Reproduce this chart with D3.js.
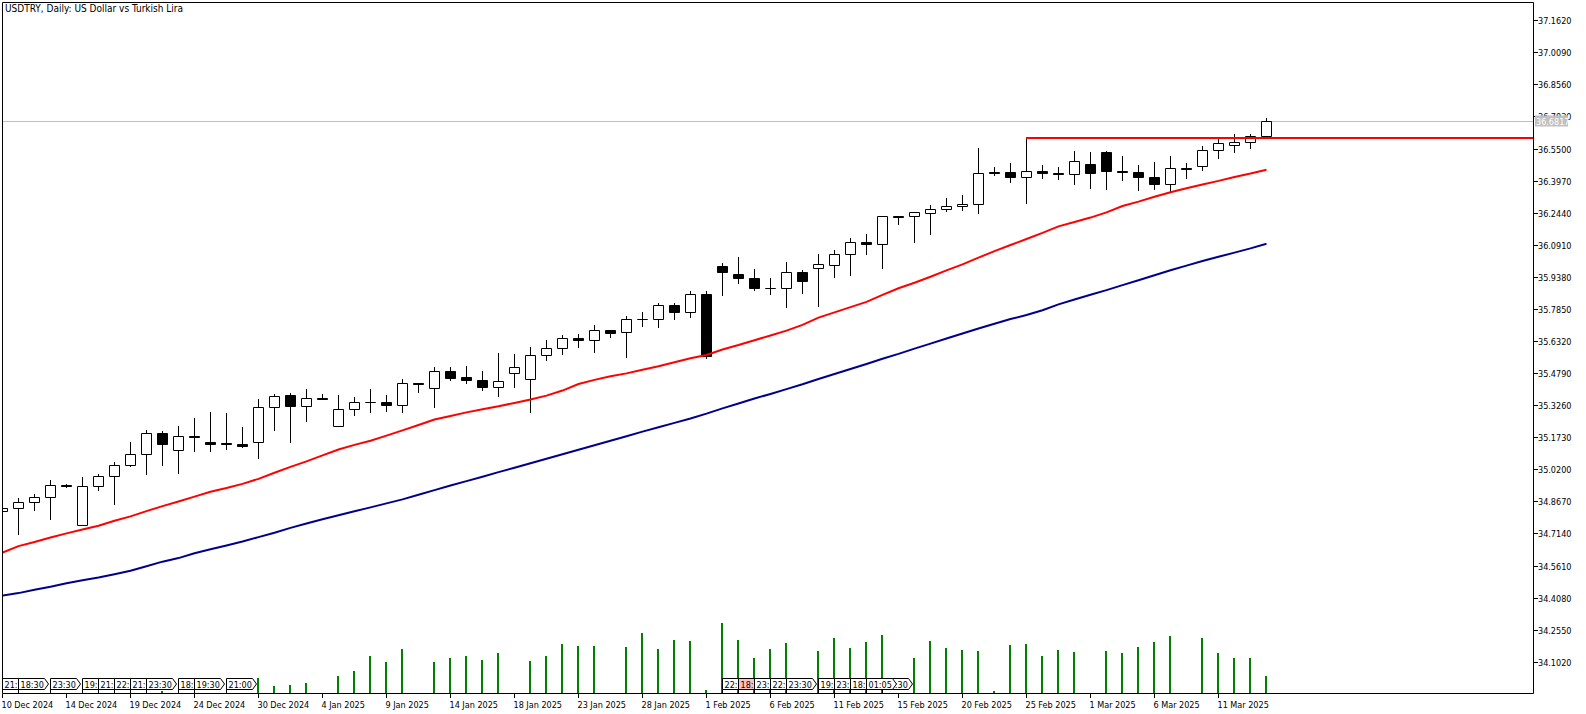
<!DOCTYPE html>
<html><head><meta charset="utf-8">
<script src="https://cdn.jsdelivr.net/npm/d3@7"></script>
<style>
html,body{margin:0;padding:0;background:#fff;}
svg{display:block;}
text{font-family:"DejaVu Sans Condensed","DejaVu Sans",sans-serif;font-size:9px;}
</style>
</head><body>
<svg id="c" width="1586" height="714"></svg>
<script>
// ---------- DATA ----------
const title = "USDTRY, Daily:  US Dollar vs Turkish Lira";
const opens = [
34.822,34.836,34.865,34.889,34.946,34.755,34.941,34.989,35.040,35.094,
35.194,35.113,35.180,35.148,35.145,35.143,35.151,35.318,35.375,35.323,
35.361,35.228,35.309,35.340,35.342,35.328,35.433,35.409,35.490,35.458,
35.447,35.414,35.480,35.452,35.566,35.600,35.647,35.638,35.685,35.676,
35.738,35.738,35.805,35.771,35.857,35.991,35.952,35.933,35.884,35.886,
35.962,35.981,35.995,36.048,36.105,36.096,36.229,36.229,36.243,36.262,
36.277,36.286,36.440,36.439,36.415,36.444,36.434,36.429,36.477,36.534,
36.444,36.439,36.415,36.382,36.458,36.468,36.544,36.568,36.582,36.611];
const highs = [
34.837,34.881,34.903,34.971,34.952,34.981,35.000,35.056,35.148,35.208,
35.204,35.228,35.266,35.294,35.290,35.223,35.356,35.380,35.385,35.404,
35.380,35.375,35.366,35.404,35.375,35.452,35.433,35.507,35.506,35.515,
35.491,35.577,35.572,35.604,35.638,35.662,35.666,35.709,35.685,35.750,
35.771,35.814,35.814,35.871,35.871,36.005,36.035,35.976,35.933,36.010,
35.972,36.045,36.068,36.121,36.140,36.229,36.229,36.248,36.282,36.316,
36.329,36.553,36.463,36.483,36.604,36.472,36.463,36.539,36.534,36.539,
36.515,36.472,36.487,36.515,36.482,36.563,36.596,36.620,36.620,36.697];
const lows = [
34.822,34.711,34.827,34.782,34.937,34.755,34.922,34.854,35.037,34.997,
35.040,35.002,35.106,35.106,35.118,35.127,35.073,35.207,35.149,35.250,
35.354,35.228,35.280,35.294,35.299,35.292,35.388,35.316,35.445,35.431,
35.397,35.369,35.412,35.292,35.540,35.569,35.602,35.579,35.650,35.555,
35.703,35.698,35.736,35.746,35.550,35.850,35.908,35.876,35.857,35.795,
35.862,35.798,35.936,35.946,36.046,35.979,36.189,36.103,36.141,36.253,
36.256,36.242,36.425,36.389,36.289,36.408,36.406,36.380,36.361,36.358,
36.401,36.353,36.358,36.344,36.408,36.447,36.504,36.534,36.552,36.611];
const closes = [
34.836,34.865,34.889,34.946,34.940,34.941,34.989,35.042,35.094,35.194,
35.142,35.180,35.173,35.142,35.141,35.130,35.318,35.371,35.323,35.361,
35.354,35.309,35.342,35.340,35.328,35.433,35.426,35.490,35.455,35.447,
35.412,35.442,35.509,35.566,35.600,35.647,35.636,35.685,35.671,35.738,
35.738,35.805,35.771,35.857,35.561,35.960,35.932,35.886,35.884,35.962,
35.917,35.997,36.048,36.105,36.096,36.229,36.222,36.248,36.262,36.277,
36.286,36.434,36.434,36.415,36.444,36.434,36.429,36.491,36.434,36.444,
36.439,36.415,36.382,36.458,36.453,36.544,36.577,36.582,36.611,36.6817];
const maRed = [
34.625,34.656,34.676,34.697,34.717,34.735,34.753,34.777,34.798,34.823,
34.847,34.869,34.892,34.915,34.933,34.953,34.977,35.006,35.034,35.060,
35.089,35.117,35.139,35.159,35.183,35.208,35.234,35.260,35.277,35.294,
35.309,35.323,35.339,35.355,35.374,35.398,35.429,35.449,35.466,35.480,
35.497,35.514,35.533,35.552,35.568,35.594,35.615,35.638,35.661,35.684,
35.711,35.746,35.771,35.796,35.821,35.854,35.886,35.912,35.941,35.971,
36.000,36.032,36.063,36.092,36.121,36.150,36.181,36.202,36.223,36.248,
36.278,36.299,36.322,36.344,36.363,36.381,36.398,36.417,36.433,36.451];
const maBlue = [
34.420,34.432,34.448,34.462,34.479,34.493,34.506,34.522,34.539,34.560,
34.582,34.599,34.622,34.641,34.659,34.678,34.699,34.720,34.743,34.764,
34.784,34.803,34.822,34.841,34.860,34.879,34.901,34.923,34.945,34.966,
34.987,35.009,35.030,35.051,35.073,35.094,35.116,35.137,35.159,35.180,
35.202,35.223,35.244,35.265,35.288,35.313,35.336,35.360,35.382,35.405,
35.428,35.453,35.477,35.501,35.525,35.550,35.573,35.598,35.622,35.646,
35.670,35.694,35.717,35.739,35.758,35.781,35.809,35.832,35.855,35.877,
35.901,35.924,35.948,35.972,35.994,36.016,36.036,36.056,36.076,36.098];
const volumes = [
0,0,0,0,0,0,0,0,0,0,100,0,0,0,0,0,
750,350,400,500,0,850,1100,1850,1550,2200,0,1550,1750,1850,1650,2000,
0,1600,1850,2450,2350,2350,0,2300,3000,2200,2650,2600,150,3500,2650,1750,
2200,2500,0,2100,2750,2250,2550,2900,0,1750,2600,2250,2150,2100,100,2400,
2450,1850,2150,2050,0,2100,2000,2300,2550,2850,0,2750,2000,1750,1750,850];
const xTickLabels = ["10 Dec 2024","14 Dec 2024","19 Dec 2024","24 Dec 2024","30 Dec 2024",
"4 Jan 2025","9 Jan 2025","14 Jan 2025","18 Jan 2025","23 Jan 2025","28 Jan 2025",
"1 Feb 2025","6 Feb 2025","11 Feb 2025","15 Feb 2025","20 Feb 2025","25 Feb 2025",
"1 Mar 2025","6 Mar 2025","11 Mar 2025"];
const xTickBars = [0,4,8,12,16,20,24,28,32,36,40,44,48,52,56,60,64,68,72,76];
const yTickLabels = ["34.1020","34.2550","34.4080","34.5610","34.7140","34.8670","35.0200",
"35.1730","35.3260","35.4790","35.6320","35.7850","35.9380","36.0910","36.2440","36.3970",
"36.5500","36.7030","36.8560","37.0090","37.1620"];
const lastPrice = 36.6817;
const levelPrice = 36.604;
const levelStartBar = 64;
const eventBars   = [0,1,3,5,6,7,8,9,11,12,14,45,46,47,48,49,51,52,53,54,55];
const eventLabels = ["21:","18:30","23:30","19:","21:","22:","21:","23:30","18:","19:30","21:00",
"22:","18:","23:","22:","23:30","19:","23:","18:","01:05","23:30"];
const eventHighlightBar = 46;

// ---------- LAYOUT ----------
const W = 1586, H = 714;
const L = 2, T = 2, R = 1533, B = 693;
const svg = d3.select("#c");
const nBars = opens.length;

const x = d3.scaleLinear().domain([0, nBars - 1]).range([2.5, 2.5 + 16 * (nBars - 1)]);
const y = d3.scaleLinear().domain([34.102, 37.162]).range([662.3, 20.7]);
const yv = d3.scaleLinear().domain([0, 3500]).range([B, B - 70]);
const snap = v => Math.round(v - 0.5) + 0.5;

svg.append("rect").attr("width", W).attr("height", H).attr("fill", "#fff");
svg.append("clipPath").attr("id", "plot").append("rect")
  .attr("x", L + 1).attr("y", T + 1).attr("width", R - L - 1).attr("height", B - T - 1);
const g = svg.append("g").attr("clip-path", "url(#plot)");

// current price line
g.append("line").attr("x1", L).attr("x2", R).attr("y1", snap(y(lastPrice))).attr("y2", snap(y(lastPrice)))
  .attr("stroke", "#c0c0c0").attr("stroke-width", 1);

// volumes
g.append("g").selectAll("rect").data(volumes.map((v, i) => ({v, i})).filter(d => d.v > 0))
  .join("rect")
  .attr("x", d => x(d.i) - 1.5).attr("width", 2)
  .attr("y", d => Math.round(yv(d.v))).attr("height", d => B - Math.round(yv(d.v)))
  .attr("fill", "#008000");

// candles
const candles = g.append("g");
for (let i = 0; i < nBars; i++) {
  const cx = x(i);
  const o = opens[i], c = closes[i];
  const bull = c >= o;
  const yTop = snap(y(Math.max(o, c))), yBot = snap(y(Math.min(o, c)));
  candles.append("line").attr("x1", cx).attr("x2", cx)
    .attr("y1", snap(y(highs[i])) - 0.5).attr("y2", snap(y(lows[i])) + 0.5)
    .attr("stroke", "#000").attr("stroke-width", 1);
  candles.append("path")
    .attr("d", `M${cx - 5},${yTop}H${cx + 5}V${yBot}H${cx - 5}Z`)
    .attr("fill", bull ? "#fff" : "#000").attr("stroke", "#000").attr("stroke-width", 1);
}

// moving averages
const line = d3.line().x((d, i) => x(i)).y(d => y(d));
g.append("path").datum(maBlue).attr("d", line).attr("fill", "none")
  .attr("stroke", "#00008B").attr("stroke-width", 2);
g.append("path").datum(maRed).attr("d", line).attr("fill", "none")
  .attr("stroke", "#FF0000").attr("stroke-width", 2);

// horizontal level line
g.append("line").attr("x1", x(levelStartBar) - 0.5).attr("x2", R)
  .attr("y1", Math.round(y(levelPrice)) ).attr("y2", Math.round(y(levelPrice)))
  .attr("stroke", "#FF0000").attr("stroke-width", 2);

// calendar events
const evTop = 678.5, evBot = 689.5;
const evG = g.append("g");
const order = d3.range(eventBars.length).reverse();
for (const j of order) {
  const k = eventBars[j], lab = eventLabels[j];
  const ex = x(k);
  const hi = k === eventHighlightBar;
  const grp = evG.append("g");
  const t = grp.append("text").attr("x", ex + 2).attr("y", 687.5).text(lab)
    .attr("fill", "#000");
  const tw = t.node().getComputedTextLength();
  const w = Math.round(tw + 3);
  const arrow = lab.length > 3;
  const pts = arrow
    ? [[ex, evTop], [ex + w, evTop], [ex + w + 4, (evTop + evBot) / 2], [ex + w, evBot], [ex, evBot]]
    : [[ex, evTop], [ex + w, evTop], [ex + w, evBot], [ex, evBot]];
  grp.insert("path", "text").attr("d", "M" + pts.map(p => p.join(",")).join("L") + "Z")
    .attr("fill", hi ? "#ffc0c0" : "#fff").attr("stroke", "#000").attr("stroke-width", 1);
  grp.append("line").attr("x1", ex).attr("x2", ex).attr("y1", evBot).attr("y2", B)
    .attr("stroke", "#000").attr("stroke-width", 1);
}

// frame
svg.append("path").attr("d", `M${L + 0.5},${B + 0.5}V${T + 0.5}H${R + 0.5}V${B + 0.5}H${L + 0.5}`)
  .attr("fill", "none").attr("stroke", "#000").attr("stroke-width", 1);

// y axis (right)
const yAx = svg.append("g");
yTickLabels.forEach(lbl => {
  const yy = snap(y(+lbl));
  yAx.append("line").attr("x1", R + 1).attr("x2", R + 5).attr("y1", yy).attr("y2", yy).attr("stroke", "#000");
  yAx.append("text").attr("x", R + 5).attr("y", yy).attr("dy", "0.35em").text(lbl).attr("fill", "#000");
});
// last price label
const ly = y(lastPrice);
yAx.append("rect").attr("x", R + 2).attr("y", Math.round(ly) - 5.5).attr("width", 33).attr("height", 11).attr("fill", "#c0c0c0");
yAx.append("text").attr("x", R + 3).attr("y", ly).attr("dy", "0.35em").text(lastPrice.toFixed(4)).attr("fill", "#fff");

// x axis (bottom)
const xAx = svg.append("g");
xTickBars.forEach((b, i) => {
  const xx = x(b);
  xAx.append("line").attr("x1", xx).attr("x2", xx).attr("y1", B + 1).attr("y2", B + 5).attr("stroke", "#000");
  xAx.append("text").attr("x", Math.max(xx - 1, 0.5)).attr("y", 708).text(xTickLabels[i]).attr("fill", "#000");
});

// title
svg.append("text").attr("x", 5).attr("y", 12).text(title).attr("fill", "#000").style("font-size", "10px");
</script>
</body></html>
